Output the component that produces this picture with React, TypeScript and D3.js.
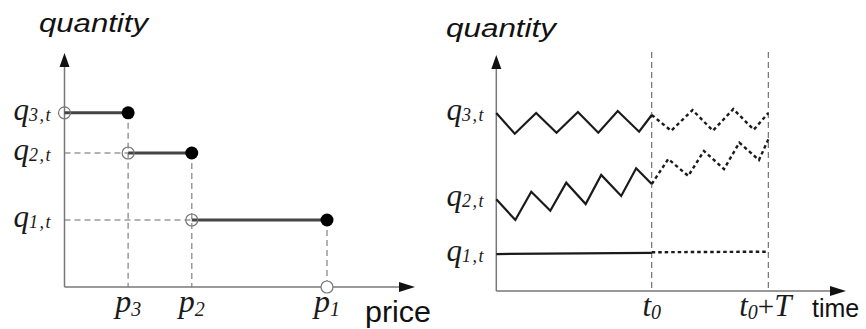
import React from "react";
import * as d3 from "d3";

// ---- Left panel: step demand curve (price vs quantity) ----
const priceLabels = ["3", "2", "1"];
const prices = [2, 4, 8.25]; // p3, p2, p1
const stepQuantities = [5.2, 4, 2]; // q3,t, q2,t, q1,t
const stepQuantityLabels = ["3,t", "2,t", "1,t"];

// ---- Right panel: quantities over time ----
const t0 = 8;
const horizonT = 6;
const q3Times = [0, 0.95, 2.05, 3.1, 4.2, 5.25, 6.25, 7.35, 8];
const q3Values = [9.05, 8.0, 9.05, 8.05, 9.1, 8.05, 9.15, 8.1, 8.95];
const q3ForecastTimes = [8, 9, 10.1, 11.15, 12.2, 13.25, 14];
const q3ForecastValues = [8.95, 8.15, 9.2, 8.15, 9.25, 8.2, 9.05];
const q2Times = [0, 0.98, 1.8, 2.78, 3.6, 4.6, 5.4, 6.43, 7.2, 8];
const q2Values = [4.66, 3.61, 5.05, 4.08, 5.51, 4.42, 5.9, 4.83, 6.24, 5.44];
const q2ForecastTimes = [8, 8.85, 9.88, 10.69, 11.72, 12.51, 13.52, 14];
const q2ForecastValues = [5.44, 6.71, 5.85, 7.12, 6.2, 7.54, 6.66, 7.71];
const q1Times = [0, 8];
const q1Values = [1.88, 1.94];
const q1ForecastTimes = [8, 14];
const q1ForecastValues = [1.97, 2.0];
const seriesLabels = ["3,t", "2,t", "1,t"];

const W = 866;
const H = 329;

const serif = "'Liberation Serif', 'DejaVu Serif', serif";
const sans = "'Liberation Sans', Arial, sans-serif";

const axisColor = "#777";
const guideColor = "#9a9a9a";

function QLabel({ x, y, sub }: { x: number; y: number; sub: string }) {
  return (
    <text x={x} y={y} textAnchor="end" fontFamily={serif} fontStyle="italic" fill="#1a1a1a">
      <tspan fontSize={31}>q</tspan>
      <tspan fontSize={18} dy={1} letterSpacing={1.5}>{sub}</tspan>
    </text>
  );
}

function Arrows({ x0, y0, x1, y1 }: { x0: number; y0: number; x1: number; y1: number }) {
  // y-axis arrow points up to (x0, y1); x-axis arrow points right to (x1, y0)
  return (
    <g fill="#111">
      <path d={`M${x0},${y1} L${x0 - 5},${y1 + 14} L${x0 + 5},${y1 + 14} Z`} />
      <path d={`M${x1},${y0} L${x1 - 16},${y0 - 5} L${x1 - 16},${y0 + 5} Z`} />
    </g>
  );
}

export default function App() {
  // Left panel scales
  const xL = d3.scaleLinear().domain([0, 11]).range([64.5, 414.5]);
  const yL = d3.scaleLinear().domain([0, 7]).range([287, 52.5]);

  // Right panel scales
  const xR = d3.scaleLinear().domain([0, 18]).range([496.3, 846]);
  const yR = d3.scaleLinear().domain([0, 12]).range([291, 55]);

  const line = d3
    .line<[number, number]>()
    .x((d) => xR(d[0]))
    .y((d) => yR(d[1]));
  const zip = (ts: number[], vs: number[]) => ts.map((t, i) => [t, vs[i]] as [number, number]);

  const solidSeries = [
    zip(q3Times, q3Values),
    zip(q2Times, q2Values),
    zip(q1Times, q1Values),
  ];
  const forecastSeries = [
    zip(q3ForecastTimes, q3ForecastValues),
    zip(q2ForecastTimes, q2ForecastValues),
    zip(q1ForecastTimes, q1ForecastValues),
  ];

  const ox = xL(0);
  const oy = yL(0);
  const rx = xR(0);
  const ry = yR(0);

  // Step segments: open circle at previous price (or axis), filled at own price
  const steps = prices.map((p, i) => ({
    x0: i === 0 ? 0 : prices[i - 1],
    x1: p,
    q: stepQuantities[i],
  }));

  return (
    <svg
      width={W}
      height={H}
      style={{ position: "absolute", left: 0, top: 0, background: "#fff" }}
    >
      {/* ===== Left panel ===== */}
      <text x={39} y={32} fontFamily={sans} fontStyle="italic" fontSize={26} textLength={109} lengthAdjust="spacingAndGlyphs" fill="#111">
        quantity
      </text>

      {/* guide lines */}
      <g stroke={guideColor} strokeWidth={1.5} strokeDasharray="6,4" fill="none">
        {steps.map((s, i) =>
          i > 0 ? (
            <line key={"h" + i} x1={ox} x2={xL(s.x0)} y1={yL(s.q)} y2={yL(s.q)} />
          ) : null
        )}
        {steps.map((s, i) => (
          <line key={"v" + i} x1={xL(s.x1)} x2={xL(s.x1)} y1={yL(s.q)} y2={oy} />
        ))}
      </g>

      {/* axes */}
      <g stroke={axisColor} strokeWidth={1.5}>
        <line x1={ox} x2={ox} y1={oy} y2={62} />
        <line x1={ox} x2={402} y1={oy} y2={oy} />
      </g>
      <Arrows x0={ox} y0={oy} x1={415} y1={53} />

      {/* step segments */}
      <g stroke="#444" strokeWidth={3}>
        {steps.map((s, i) => (
          <line key={i} x1={xL(s.x0)} x2={xL(s.x1)} y1={yL(s.q)} y2={yL(s.q)} />
        ))}
      </g>
      {steps.map((s, i) => (
        <g key={"c" + i}>
          <circle cx={xL(s.x0)} cy={yL(s.q)} r={6} fill="none" stroke="#777" strokeWidth={1.2} />
          <circle cx={xL(s.x1)} cy={yL(s.q)} r={6.5} fill="#000" />
        </g>
      ))}
      <circle cx={xL(prices[2])} cy={oy} r={6} fill="#fff" stroke="#777" strokeWidth={1.2} />

      {/* labels */}
      {stepQuantities.map((q, i) => (
        <QLabel key={i} x={52} y={yL(q) + 7} sub={stepQuantityLabels[i]} />
      ))}
      {prices.map((p, i) => (
        <text key={i} x={xL(p)} y={312} textAnchor="middle" fontFamily={serif} fontStyle="italic" fill="#1a1a1a">
          <tspan fontSize={32}>p</tspan>
          <tspan fontSize={20} dy={4}>{priceLabels[i]}</tspan>
        </text>
      ))}
      <text x={365} y={322} fontFamily={sans} fontSize={29} textLength={66} lengthAdjust="spacingAndGlyphs" fill="#111">
        price
      </text>

      {/* ===== Right panel ===== */}
      <text x={446} y={37} fontFamily={sans} fontStyle="italic" fontSize={26} textLength={110} lengthAdjust="spacingAndGlyphs" fill="#111">
        quantity
      </text>

      {/* t0 and t0+T markers */}
      <g stroke="#555" strokeWidth={1} strokeDasharray="6,4">
        {[t0, t0 + horizonT].map((t) => (
          <line key={t} x1={xR(t)} x2={xR(t)} y1={52} y2={ry} />
        ))}
      </g>

      {/* axes */}
      <g stroke={axisColor} strokeWidth={1.5}>
        <line x1={rx} x2={rx} y1={ry} y2={64} />
        <line x1={rx} x2={833} y1={ry} y2={ry} />
      </g>
      <Arrows x0={rx} y0={ry} x1={846} y1={55} />

      {/* history */}
      <g fill="none" stroke="#1a1a1a" strokeWidth={2.2} strokeLinejoin="miter">
        {solidSeries.map((s, i) => (
          <path key={i} d={line(s) || ""} />
        ))}
      </g>
      {/* forecast */}
      <g fill="none" stroke="#1a1a1a" strokeWidth={2.4} strokeDasharray="3.5,3">
        {forecastSeries.map((s, i) => (
          <path key={i} d={line(s) || ""} />
        ))}
      </g>

      {solidSeries.map((s, i) => (
        <QLabel key={i} x={485} y={yR(s[0][1]) + 7} sub={seriesLabels[i]} />
      ))}

      <text x={xR(t0)} y={316} textAnchor="middle" fontFamily={serif} fontStyle="italic" fill="#1a1a1a">
        <tspan fontSize={31}>t</tspan>
        <tspan fontSize={20} dy={3}>0</tspan>
      </text>
      <text x={xR(t0 + horizonT) - 3} y={316} textAnchor="middle" fontFamily={serif} fill="#1a1a1a">
        <tspan fontSize={31} fontStyle="italic">t</tspan>
        <tspan fontSize={20} dy={3} fontStyle="italic">0</tspan>
        <tspan fontSize={29} dy={-3}>+</tspan>
        <tspan fontSize={31} fontStyle="italic">T</tspan>
      </text>
      <text x={812} y={317} fontFamily={sans} fontSize={25} fill="#111">
        time
      </text>
    </svg>
  );
}
